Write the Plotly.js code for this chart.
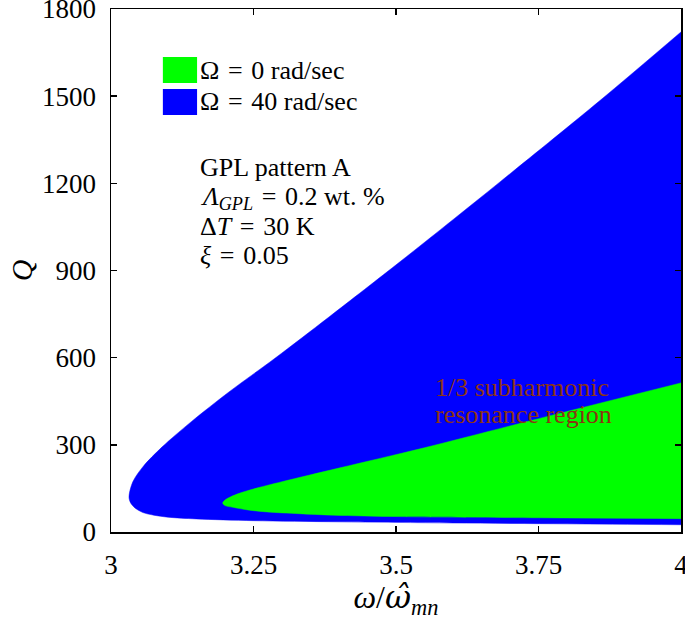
<!DOCTYPE html>
<html>
<head>
<meta charset="utf-8">
<script src="https://cdn.plot.ly/plotly-3.0.1.min.js"></script>
<style>
  html, body { margin: 0; padding: 0; background: #fff; }
  #chart { width: 685px; height: 620px; }
</style>
</head>
<body>
<div id="chart"></div>
<script>
// Region boundaries (omega ratio vs Q)
const blueUpperX = [3.0316, 3.0381, 3.0558, 3.0898, 3.1405, 3.207, 3.2877, 3.3825, 3.507, 3.60, 3.6825, 3.8579, 4.0];
const blueUpperQ = [120, 172, 224, 293, 379, 482, 598, 740, 930, 1075, 1205, 1485, 1721];
const blueLowerX = [3.0345, 3.042, 3.056, 3.075, 3.10, 3.15, 3.25, 3.40, 3.60, 3.80, 4.0];
const blueLowerQ = [100, 83, 67, 58, 51, 45, 39, 35, 31, 28, 25];

const greenUpperX = [3.196, 3.200, 3.210, 3.225, 3.25, 3.30, 3.40, 3.55, 3.75, 4.0];
const greenUpperQ = [100, 110, 121, 133, 148, 173, 220, 290, 390, 513];
const greenLowerX = [3.200, 3.214, 3.24, 3.274, 3.33, 3.39, 3.507, 3.75, 4.0];
const greenLowerQ = [91, 85, 76, 69, 63, 58, 53, 49, 46];

const xTicks = [3, 3.25, 3.5, 3.75, 4];
const xTickText = ['3', '3.25', '3.5', '3.75', '4'];
const yTicks = [0, 300, 600, 900, 1200, 1500, 1800];

// math-style spacing around "="
const EQ = '\u2004=\u2004';
const seriesNames = ['Ω' + EQ + '0 rad/sec', 'Ω' + EQ + '40 rad/sec'];
const infoLines = [
    'GPL pattern A',
    '<i>Λ</i><sub><i>GPL</i></sub>' + EQ + '0.2 wt. %',
    'Δ<i>T</i>' + EQ + '30 K',
    '<i>ξ</i>' + EQ + '0.05'
];
const regionLines = ['1/3 subharmonic', 'resonance region'];

const COLORS = {
    blue: '#0000ff',
    green: '#00ff00',
    text: '#000000',
    region: '#8c3512'
};
const FONT = 'Liberation Serif';

// walk the upper edge back to the nose, then out along the lower edge
function regionPath(ux, uy, lx, ly) {
    return {
        x: ux.slice().reverse().concat(lx),
        y: uy.slice().reverse().concat(ly)
    };
}

const bluePath = regionPath(blueUpperX, blueUpperQ, blueLowerX, blueLowerQ);
const greenPath = regionPath(greenUpperX, greenUpperQ, greenLowerX, greenLowerQ);

const traces = [
    {
        x: bluePath.x, y: bluePath.y,
        type: 'scatter', mode: 'lines',
        fill: 'toself', fillcolor: COLORS.blue,
        line: { color: COLORS.blue, width: 0.5, shape: 'spline', smoothing: 0.9 },
        name: seriesNames[1], hoverinfo: 'none', showlegend: false
    },
    {
        x: greenPath.x, y: greenPath.y,
        type: 'scatter', mode: 'lines',
        fill: 'toself', fillcolor: COLORS.green,
        line: { color: COLORS.green, width: 0.5, shape: 'spline', smoothing: 0.9 },
        name: seriesNames[0], hoverinfo: 'none', showlegend: false
    }
];

const annotations = [];
const shapes = [];

// hand-made legend with large swatches
const legendColors = [COLORS.green, COLORS.blue];
const legendQ = [1590, 1480];
legendColors.forEach((c, i) => {
    shapes.push({
        type: 'rect', xref: 'x', yref: 'y',
        x0: 3.091, x1: 3.151,
        y0: legendQ[i] - 45, y1: legendQ[i] + 45,
        fillcolor: c, line: { width: 0 }
    });
    annotations.push({
        x: 3.153, y: legendQ[i], xref: 'x', yref: 'y',
        text: seriesNames[i], showarrow: false,
        xanchor: 'left', yanchor: 'middle',
        font: { family: FONT, size: 26, color: COLORS.text }
    });
});

const infoQ = [1256, 1150, 1053, 953];
infoLines.forEach((t, i) => {
    annotations.push({
        x: 3.153, y: infoQ[i], xref: 'x', yref: 'y',
        text: t, showarrow: false,
        xanchor: 'left', yanchor: 'middle',
        font: { family: FONT, size: 26, color: COLORS.text }
    });
});

const regionQ = [499, 405];
regionLines.forEach((t, i) => {
    annotations.push({
        x: 3.565, y: regionQ[i], xref: 'x', yref: 'y',
        text: t, showarrow: false,
        xanchor: 'left', yanchor: 'middle',
        font: { family: FONT, size: 26, color: COLORS.region }
    });
});

const axisCommon = {
    showline: true, linecolor: '#000', linewidth: 1.5,
    mirror: 'ticks', ticks: 'inside', ticklen: 6, tickwidth: 1.5, tickcolor: '#000',
    showgrid: false, zeroline: false,
    ticklabeloverflow: 'allow',
    tickfont: { family: FONT, size: 27, color: COLORS.text }
};

const layout = {
    width: 685, height: 620,
    margin: { l: 111, r: 4, t: 9, b: 88 },
    paper_bgcolor: '#fff', plot_bgcolor: '#fff',
    font: { family: FONT },
    showlegend: false,
    xaxis: Object.assign({}, axisCommon, {
        range: [3, 4],
        tickvals: xTicks, ticktext: xTickText,
        ticklabelstandoff: 8,
        title: {
            text: '<i>ω</i>/<span style="font-family:DejaVu Serif;font-style:italic">ω̂</span><sub><i>mn</i></sub>',
            font: { family: FONT, size: 32, color: COLORS.text },
            standoff: 8
        }
    }),
    yaxis: Object.assign({}, axisCommon, {
        range: [0, 1800],
        tickvals: yTicks,
        ticklabelstandoff: 8,
        title: {
            text: '<i>Q</i>',
            font: { family: FONT, size: 30, color: COLORS.text },
            standoff: 0
        }
    }),
    shapes: shapes,
    annotations: annotations
};

Plotly.newPlot('chart', traces, layout, { staticPlot: true, displayModeBar: false });
</script>
</body>
</html>
